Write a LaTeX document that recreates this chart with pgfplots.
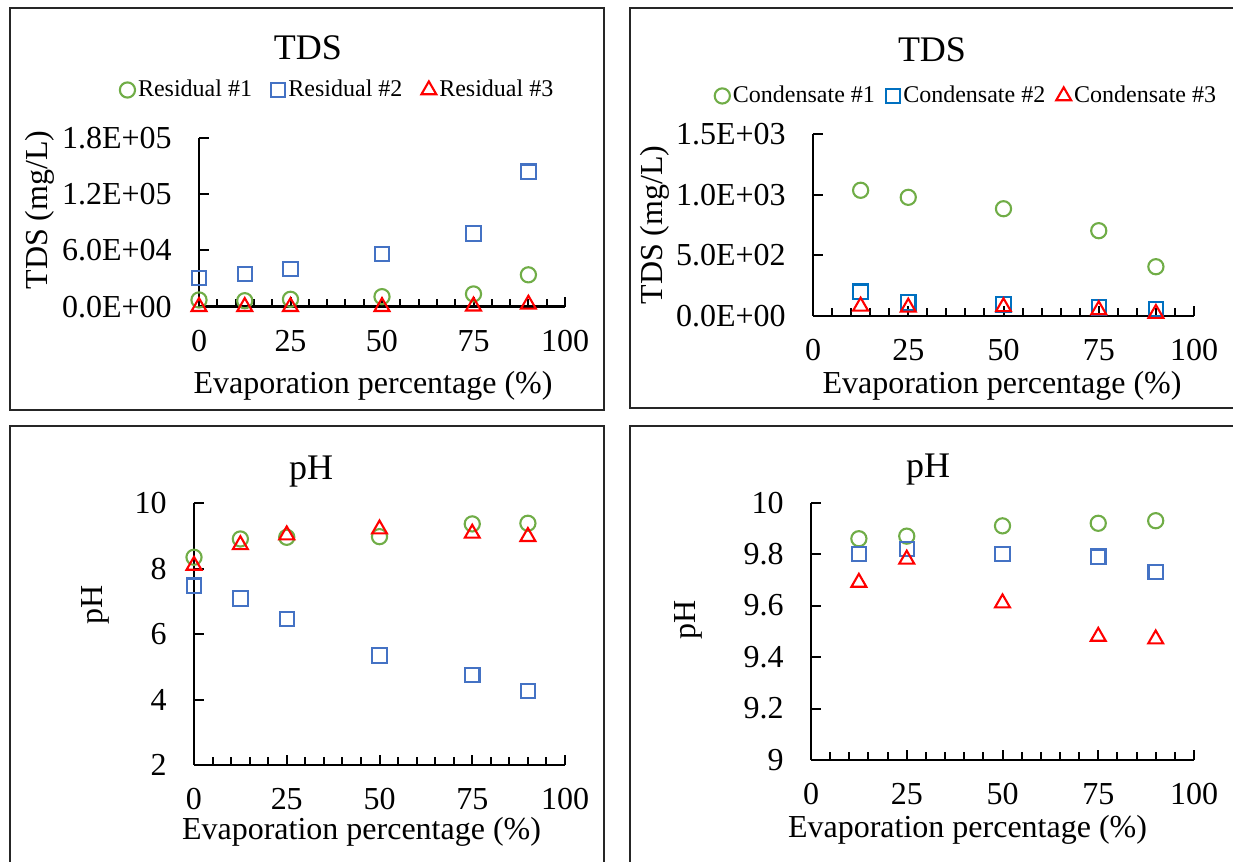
\documentclass[border=0pt]{standalone}
\usepackage{fontspec}
\setmainfont{Liberation Serif}
\usepackage{pgfplots}
\pgfplotsset{compat=1.18}

\definecolor{cgreen}{RGB}{112,173,71}
\definecolor{cblue}{RGB}{68,114,196}
\definecolor{cblueb}{RGB}{0,112,192}
\definecolor{cred}{RGB}{255,0,0}

\pgfplotsset{
  panel/.style={
    scale only axis,
    axis x line=bottom, axis y line=left,
    axis line style={-, line width=1.3pt},
    tick align=inside,
    major tick length=5pt, minor tick length=4pt,
    tick style={black, line width=1pt},
    xmin=0, xmax=100,
    xtick={0,25,50,75,100},
    xticklabels={0,25,50,75,100},
    minor x tick num=4,
    scaled y ticks=false,
    tick label style={font=\fontsize{16}{19}\selectfont, inner sep=0pt},
    xticklabel style={anchor=north, yshift=-11.5pt},
    yticklabel style={anchor=east, xshift=-13.5pt},
    clip=false,
    legend columns=3,
    legend style={draw=none, fill=none, anchor=center,
      font=\fontsize{12}{14}\selectfont, nodes={inner sep=1.5pt},
      /tikz/every even column/.append style={column sep=8pt}},
    legend image code/.code={\draw[##1] plot coordinates {(0pt,0pt)};},
  },
  s1/.style={only marks, mark=o, mark size=3.8pt, draw=cgreen, mark options={line width=1.05pt}},
  s2/.style={only marks, mark=square, mark size=3.6pt, draw=cblue, mark options={line width=1.05pt}},
  s2b/.style={only marks, mark=square, mark size=3.6pt, draw=cblueb, mark options={line width=1.05pt}},
  s3/.style={only marks, mark=triangle, mark size=4.3pt, draw=cred, mark options={line width=1.05pt}},
}
\tikzset{
  lab/.style={font=\fontsize{16}{19}\selectfont, inner sep=0pt},
  ttl/.style={font=\fontsize{18}{21}\selectfont, inner sep=0pt},
}

\begin{document}
\begin{tikzpicture}
\useasboundingbox (0,0) rectangle (616.5pt,431pt);
\clip (0,0) rectangle (616.5pt,431pt);

% panel frames
\draw[line width=1pt, black!85] (5pt,226pt) rectangle (302pt,427pt);
\draw[line width=1pt, black!85] (315pt,227pt) rectangle (625pt,427pt);
\draw[line width=1pt, black!85] (5pt,-9pt) rectangle (302pt,218pt);
\draw[line width=1pt, black!85] (315pt,-9pt) rectangle (625pt,218pt);

% top left: residual TDS
\begin{axis}[panel, at={(99.5pt,277.65pt)}, anchor=origin,
  width=183pt, height=84.35pt,
  ymin=0, ymax=180000,
  ytick={0,60000,120000,180000},
  yticklabels={0.0E+00,6.0E+04,1.2E+05,1.8E+05},
  legend style={at={(0.38,1.2845)}}]
\addplot[s1] coordinates {(0,7200) (12.5,6400) (25,7900) (50,10700) (75,13600) (90,34000)};
\addplot[s2] coordinates {(0,30400) (12.5,34700) (25,40400) (50,56100) (75,78200) (90,144000)};
\addplot[s3] coordinates {(0,0) (12.5,0) (25,0) (50,0) (75,500) (90,2500)};
\legend{Residual \#1, Residual \#2, Residual \#3}
\end{axis}

% top right: condensate TDS
\begin{axis}[panel, at={(406.5pt,273pt)}, anchor=origin,
  width=190.5pt, height=91pt,
  ymin=0, ymax=1500,
  ytick={0,500,1000,1500},
  yticklabels={0.0E+00,5.0E+02,1.0E+03,1.5E+03},
  legend style={at={(0.404,1.209)},
    /tikz/every even column/.append style={column sep=4pt}}]
\addplot[s1] coordinates {(12.5,1036) (25,978) (50,884) (75,703) (90,406)};
\addplot[s2b] coordinates {(12.5,200) (25,110) (50,96) (75,72) (90,58)};
\addplot[s3] coordinates {(12.5,80) (25,72) (50,75) (75,50) (90,20)};
\legend{Condensate \#1, Condensate \#2, Condensate \#3}
\end{axis}

% bottom left: residual pH
\begin{axis}[panel, at={(97pt,48.5pt)}, anchor=origin,
  width=185.5pt, height=130.85pt,
  ymin=2, ymax=10,
  ytick={2,4,6,8,10},
  yticklabels={2,4,6,8,10}]
\addplot[s1] coordinates {(0,8.35) (12.5,8.91) (25,8.96) (50,8.98) (75,9.37) (90,9.39)};
\addplot[s2] coordinates {(0,7.48) (12.5,7.09) (25,6.46) (50,5.35) (75,4.75) (90,4.26)};
\addplot[s3] coordinates {(0,8.1) (12.5,8.73) (25,9.03) (50,9.21) (75,9.08) (90,8.98)};
\end{axis}

% bottom right: condensate pH
\begin{axis}[panel, at={(405.5pt,51pt)}, anchor=origin,
  width=191.5pt, height=128.65pt,
  ymin=9, ymax=10,
  ytick={9,9.2,9.4,9.6,9.8,10},
  yticklabels={9,9.2,9.4,9.6,9.8,10}]
\addplot[s1] coordinates {(12.5,9.86) (25,9.87) (50,9.91) (75,9.92) (90,9.93)};
\addplot[s2] coordinates {(12.5,9.80) (25,9.82) (50,9.80) (75,9.79) (90,9.73)};
\addplot[s3] coordinates {(12.5,9.69) (25,9.78) (50,9.61) (75,9.48) (90,9.47)};
\end{axis}

% titles
\node[ttl] at (154pt,407pt) {TDS};
\node[ttl] at (466pt,406pt) {TDS};
\node[ttl] at (155.5pt,195pt) {pH};
\node[ttl] at (464pt,196pt) {pH};

% axis titles
\node[lab] at (186.5pt,238pt) {Evaporation percentage (\%)};
\node[lab] at (501pt,238pt) {Evaporation percentage (\%)};
\node[lab] at (180.75pt,15pt) {Evaporation percentage (\%)};
\node[lab] at (483.75pt,16pt) {Evaporation percentage (\%)};
\node[lab, rotate=90] at (20pt,326pt) {TDS (mg/L)};
\node[lab, rotate=90] at (327.5pt,318.5pt) {TDS (mg/L)};
\node[lab, rotate=90] at (47.5pt,128.5pt) {pH};
\node[lab, rotate=90] at (344pt,121pt) {pH};
\end{tikzpicture}
\end{document}
